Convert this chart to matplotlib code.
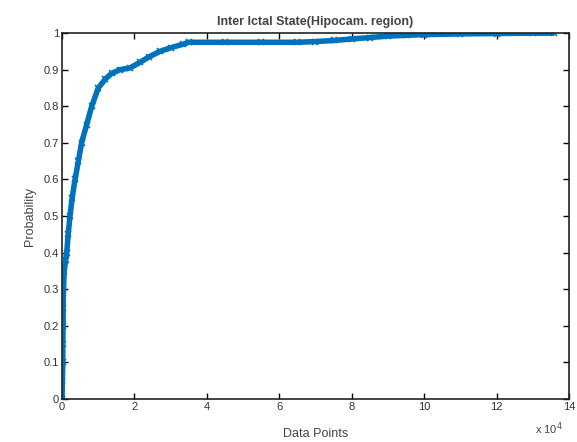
import numpy as np
import matplotlib
matplotlib.use('Agg')
import matplotlib.pyplot as plt

plt.rcParams['font.family'] = ['Liberation Sans', 'DejaVu Sans']

# data points (x in units of 10^4)
data_x = [0.0, 0.01, 0.02, 0.02, 0.03, 0.03, 0.04, 0.06, 0.1, 0.13, 0.17, 0.22, 0.28,
          0.36, 0.45, 0.54, 0.68, 0.82, 1.0, 1.2, 1.37, 1.6, 1.88, 2.15, 2.4,
          2.7, 3.0, 3.35, 3.5, 4.5, 5.5, 6.5, 7.0, 7.5, 8.0, 8.5, 9.0, 9.5,
          10.0, 11.0, 12.0, 13.0, 13.6]
data_y = [0.0, 0.05, 0.1, 0.15, 0.2, 0.25, 0.3, 0.35, 0.38, 0.4, 0.45, 0.5, 0.55,
          0.6, 0.65, 0.7, 0.75, 0.8, 0.85, 0.875, 0.89, 0.9, 0.905, 0.92, 0.935,
          0.95, 0.96, 0.97, 0.975, 0.975, 0.975, 0.975, 0.977, 0.98, 0.984, 0.988, 0.992, 0.994,
          0.996, 0.998, 0.999, 1.0, 1.0]

xticks = [0, 2, 4, 6, 8, 10, 12, 14]
yticks = [0, 0.1, 0.2, 0.3, 0.4, 0.5, 0.6, 0.7, 0.8, 0.9, 1]
ytick_labels = ['0', '0.1', '0.2', '0.3', '0.4', '0.5', '0.6', '0.7', '0.8', '0.9', '1']

fig = plt.figure(figsize=(5.77, 4.42), dpi=100)
ax = fig.add_axes([0.1075, 0.0973, 0.8785, 0.8277])

blue = '#0072BD'
ax.plot(data_x, data_y, '-', color=blue, linewidth=4, solid_capstyle='butt')
ax.plot(data_x, data_y, 'x', color=blue, markersize=4, markeredgewidth=1.2)

ax.set_xlim(0, 14)
ax.set_ylim(0, 1)
ax.set_xticks(xticks)
ax.set_yticks(yticks)
ax.set_yticklabels(ytick_labels)
ax.tick_params(direction='in', top=True, right=True, length=4, width=1,
               labelsize=8, labelcolor='#333333', pad=2)
for s in ax.spines.values():
    s.set_linewidth(1.2)
    s.set_color('#222222')

ax.set_title('Inter Ictal State(Hipocam. region)', fontsize=9, color='#444444',
             fontweight='bold', pad=6)
ax.set_xlabel('Data Points', fontsize=9, color='#444444', labelpad=12)
ax.set_ylabel('Probability', fontsize=9, color='#444444', labelpad=6)
fig.text(0.952, 0.02, r'x 10$^{4}$', fontsize=8, color='#444444', ha='center')

fig.savefig('out.png', dpi=100)
